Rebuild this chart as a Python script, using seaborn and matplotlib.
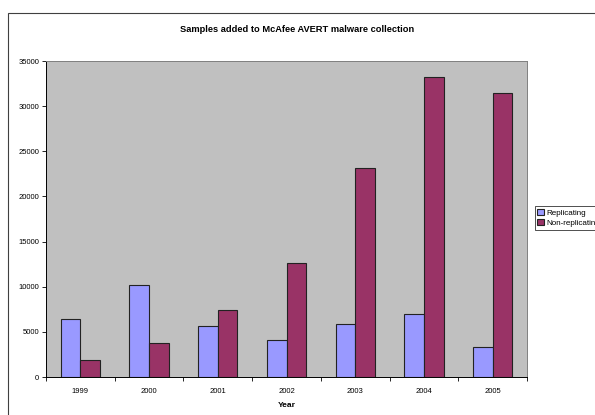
import pandas as pd
import seaborn as sns
import matplotlib.pyplot as plt
from matplotlib.patches import Rectangle
from matplotlib.ticker import FixedLocator

# Dados
years = ['1999', '2000', '2001', '2002', '2003', '2004', '2005']
replicating = [6400, 10200, 5700, 4100, 5900, 7000, 3300]
non_replicating = [1850, 3800, 7400, 12600, 23200, 33200, 31500]

df = pd.DataFrame({
    'Year': years * 2,
    'Samples': replicating + non_replicating,
    'Type': ['Replicating'] * len(years) + ['Non-replicating'] * len(years),
})

plt.rcParams['font.family'] = ['Liberation Sans', 'DejaVu Sans']

fig = plt.figure(figsize=(5.95, 4.15), dpi=100)
ax = fig.add_axes([46 / 595, 1 - 377 / 415, (527 - 46) / 595, (377 - 61) / 415])
ax.set_facecolor('#c0c0c0')

sns.barplot(data=df, x='Year', y='Samples', hue='Type', ax=ax,
            palette=['#9999ff', '#993366'], width=0.57,
            edgecolor='#222222', linewidth=0.8, saturation=1)

ax.set_xlim(-0.5, len(years) - 0.5)
ax.set_ylim(0, 35000)
ax.set_yticks(range(0, 35001, 5000))
ax.tick_params(axis='y', labelsize=5.5, length=3, width=0.6, pad=2)
ax.tick_params(axis='x', which='major', labelsize=5.5, length=0, pad=8)
ax.xaxis.set_minor_locator(FixedLocator([i - 0.5 for i in range(len(years) + 1)]))
ax.tick_params(axis='x', which='minor', length=3, width=0.6)

for s in ['left', 'bottom']:
    ax.spines[s].set_color('#000000')
    ax.spines[s].set_linewidth(0.7)
for s in ['top', 'right']:
    ax.spines[s].set_color('#808080')
    ax.spines[s].set_linewidth(0.7)

ax.set_ylabel('')
ax.set_xlabel('Year', fontsize=6, fontweight='bold', labelpad=5)

fig.text(0.5, 1 - 29 / 415, 'Samples added to McAfee AVERT malware collection',
         ha='center', va='center', fontsize=6.7, fontweight='bold')

# legenda cortada na borda direita, como no original
leg = ax.legend(loc='center left', bbox_to_anchor=(535 / 595, 1 - 218 / 415),
                bbox_transform=fig.transFigure, fontsize=5.8, frameon=True,
                fancybox=False, edgecolor='#000000', handlelength=0.8,
                handleheight=0.8, handletextpad=0.3, borderpad=0.3,
                labelspacing=0.3, borderaxespad=0)
leg.get_frame().set_linewidth(0.6)

# Borda externa do gráfico
fig.patches.append(Rectangle((8 / 595, -0.1), 1.2, 1.1 - 13 / 415,
                             transform=fig.transFigure, fill=False,
                             edgecolor='#404040', linewidth=0.8))

plt.savefig('out.png', dpi=100)
